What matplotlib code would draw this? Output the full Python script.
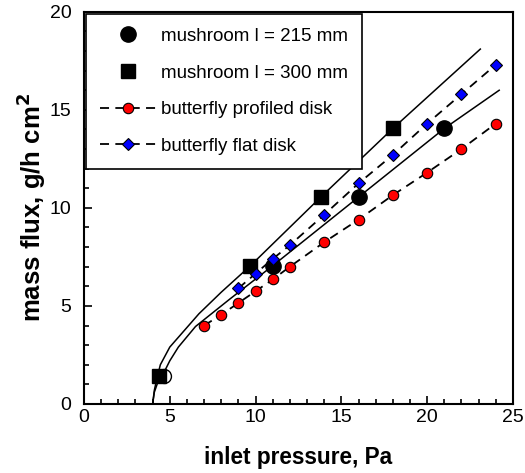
import matplotlib
matplotlib.use('Agg')
import matplotlib.pyplot as plt
from matplotlib.ticker import MultipleLocator

plt.rcParams['font.family'] = ['Liberation Sans', 'DejaVu Sans']

# measured points
mush215_x = [11.0, 16.0, 21.0]
mush215_y = [7.05, 10.55, 14.05]
mush215_open_x = [4.65]
mush215_open_y = [1.45]
mush300_x = [4.35, 9.7, 13.8, 18.0]
mush300_y = [1.45, 7.05, 10.55, 14.05]

prof_x = [7, 8, 9, 10, 11, 12, 14, 16, 18, 20, 22, 24]
prof_y = [4.0, 4.55, 5.15, 5.75, 6.35, 7.0, 8.25, 9.4, 10.65, 11.8, 13.0, 14.3]
flat_x = [9, 10, 11, 12, 14, 16, 18, 20, 22, 24]
flat_y = [5.9, 6.65, 7.4, 8.1, 9.65, 11.25, 12.7, 14.3, 15.8, 17.3]

# fitted curves
fit300_x = [4.0, 4.1, 4.25, 4.45, 5.0, 5.7, 6.7, 8.0, 9.7, 13.8, 18.0, 23.1]
fit300_y = [0.0, 0.7, 1.3, 2.0, 2.9, 3.6, 4.6, 5.7, 7.05, 10.55, 14.05, 18.1]
fit215_x = [4.0, 4.1, 4.3, 4.6, 5.0, 5.5, 6.5, 8.5, 11.0, 16.0, 21.0, 24.2]
fit215_y = [0.0, 0.6, 1.1, 1.5, 2.2, 2.9, 3.95, 5.35, 7.05, 10.55, 14.05, 16.0]

fig = plt.figure(figsize=(5.25, 4.73), dpi=100)
ax = fig.add_axes([0.16, 0.146, 0.817, 0.829])

ax.plot(fit300_x, fit300_y, color='black', lw=1.1)
ax.plot(fit215_x, fit215_y, color='black', lw=1.1)

ax.plot(mush215_open_x, mush215_open_y, 'o', ms=10, mfc='white', mec='black', mew=1.0)
ax.plot(mush215_x, mush215_y, 'o', ms=11, color='black', label='mushroom l = 215 mm')
ax.plot(mush300_x, mush300_y, 's', ms=10, color='black', label='mushroom l = 300 mm')
ax.plot(prof_x, prof_y, '--o', color='black', lw=1.3, dashes=(5, 3.5), ms=7.5,
        mfc='red', mec='black', mew=0.8, label='butterfly profiled disk')
ax.plot(flat_x, flat_y, '--D', color='black', lw=1.3, dashes=(5, 3.5), ms=6.5,
        mfc='blue', mec='black', mew=0.8, label='butterfly flat disk')

ax.set_xlim(0, 25)
ax.set_ylim(0, 20)
ax.xaxis.set_major_locator(MultipleLocator(5))
ax.xaxis.set_minor_locator(MultipleLocator(1))
ax.yaxis.set_major_locator(MultipleLocator(5))
ax.yaxis.set_minor_locator(MultipleLocator(1))
ax.tick_params(which='both', direction='in', top=False, right=False, labelsize=14, width=1.2)
ax.tick_params(which='major', length=6)
ax.tick_params(which='minor', length=3.5)
ax.tick_params(axis='y', which='major', pad=9)
ax.tick_params(axis='x', which='major', pad=4)
for s in ax.spines.values():
    s.set_linewidth(1.5)

ax.set_xlabel('inlet pressure, Pa', fontsize=16.3, fontweight='bold', labelpad=14)
ax.set_ylabel('mass flux, g/h cm$^\\mathbf{2}$', fontsize=18.5, fontweight='bold', labelpad=1)

leg = ax.legend(loc='upper left', fontsize=13.5, numpoints=1, handlelength=3.0,
                handletextpad=0.25, labelspacing=1.04, borderaxespad=0.1,
                borderpad=0.75, fancybox=False, framealpha=1)
leg.get_frame().set_edgecolor('black')
leg.get_frame().set_linewidth(1.2)

fig.savefig('out.png', dpi=100)
